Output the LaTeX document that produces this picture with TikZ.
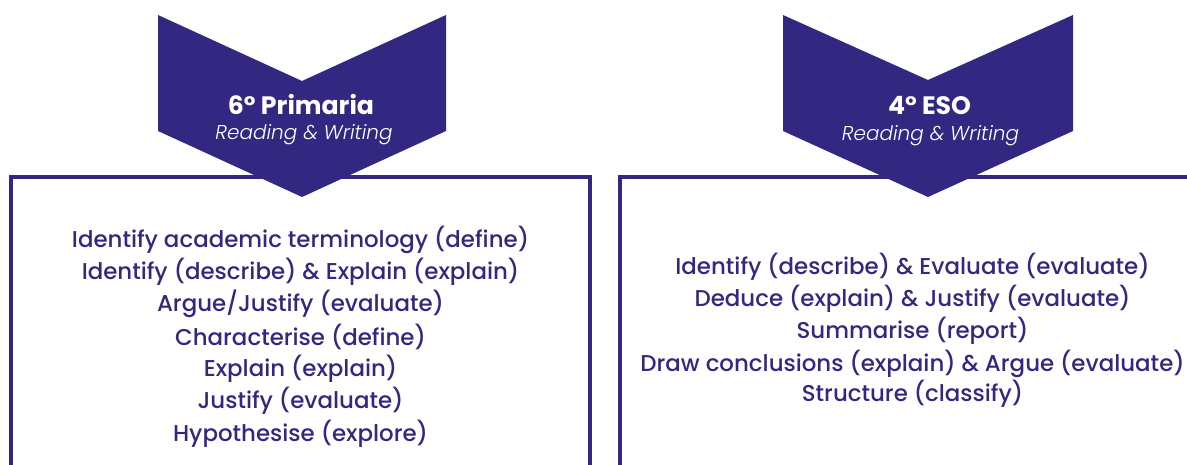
\documentclass[tikz,border=0pt]{standalone}
\usepackage{fontspec}
\setmainfont{Poppins}
\newfontfamily\itemfont{Poppins Medium}
\newfontfamily\coursefont{Poppins Light Italic}

\definecolor{indigo}{RGB}{50,40,130}

\tikzset{
  item/.style={anchor=base, inner sep=0pt, text=indigo,
    font=\itemfont\fontsize{22.9}{26}\selectfont},
  grade/.style={anchor=base, inner sep=0pt, text=white,
    font=\fontsize{25.2}{28}\selectfont\bfseries},
  course/.style={anchor=base, inner sep=0pt, text=white,
    font=\coursefont\fontsize{20}{24}\selectfont},
  frame/.style={draw=indigo, line width=3.5pt},
  chevron/.style={fill=indigo}
}

\begin{document}
\begin{tikzpicture}[x=1pt,y=-1pt]
  \useasboundingbox (0,0) rectangle (1187,465);
  \clip (0,0) rectangle (1187,465);

  % open boxes
  \draw[frame] (11,480) -- (11,177) -- (590,177) -- (590,480);
  \draw[frame] (620,480) -- (620,177) -- (1210,177) -- (1210,480);

  % chevrons
  \fill[chevron] (158,15) -- (302,81) -- (446,15) -- (446,131) -- (302,197) -- (158,131) -- cycle;
  \fill[chevron] (783,15) -- (928,80) -- (1073,15) -- (1073,131) -- (928,197) -- (783,131) -- cycle;

  \node[grade] (primT) at (301,115) {6° Primaria};
  \node[course] (primS) at (304,139.5) {Reading \& Writing};
  \node[grade] (esoT) at (929.5,115) {4° ESO};
  \node[course] (esoS) at (930.5,140.5) {Reading \& Writing};

  % 6 primaria
  \node[item] (p1) at (300.5,247.3) {Identify academic terminology (define)};
  \node[item] (p2) at (300.5,279.3) {Identify (describe) \& Explain (explain)};
  \node[item] (p3) at (300.5,311.7) {Argue/Justify (evaluate)};
  \node[item] (p4) at (300.5,345) {Characterise (define)};
  \node[item] (p5) at (300.5,376.7) {Explain (explain)};
  \node[item] (p6) at (300.5,408.3) {Justify (evaluate)};
  \node[item] (p7) at (300.5,441) {Hypothesise (explore)};

  % 4 eso
  \node[item] (e1) at (912.5,274.3) {Identify (describe) \& Evaluate (evaluate)};
  \node[item] (e2) at (912.5,306.7) {Deduce (explain) \& Justify (evaluate)};
  \node[item] (e3) at (912.5,338.3) {Summarise (report)};
  \node[item] (e4) at (912.5,371) {Draw conclusions (explain) \& Argue (evaluate)};
  \node[item] (e5) at (912.5,401.7) {Structure (classify)};
\end{tikzpicture}
\end{document}
